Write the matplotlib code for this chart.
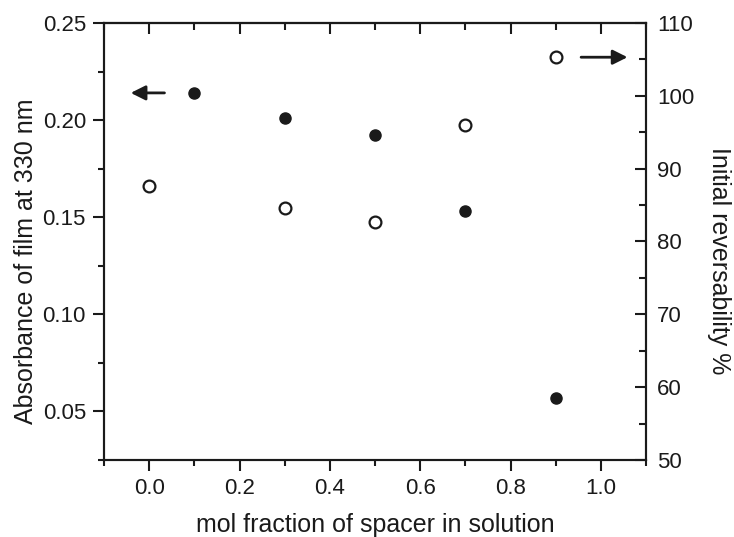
import matplotlib
matplotlib.use("Agg")
import matplotlib.pyplot as plt
from matplotlib.ticker import MultipleLocator, FormatStrFormatter

plt.rcParams["font.family"] = ["Liberation Sans", "DejaVu Sans"]

# --- données ---
x_abs = [0.1, 0.3, 0.5, 0.7, 0.9]
absorbance = [0.214, 0.201, 0.1925, 0.153, 0.057]

x_rev = [0.0, 0.3, 0.5, 0.7, 0.9]
reversibility = [87.6, 84.6, 82.7, 96.0, 105.3]

x_ticks = [0.0, 0.2, 0.4, 0.6, 0.8, 1.0]
left_ticks = [0.05, 0.10, 0.15, 0.20, 0.25]
right_ticks = [50, 60, 70, 80, 90, 100, 110]

TXT = "#1a1a1a"
FS_TICK = 16
FS_LAB = 18

fig = plt.figure(figsize=(7.34, 5.37), dpi=100)
ax = fig.add_axes([0.1417, 0.1434, 0.7385, 0.8138])
ax2 = ax.twinx()

ax.plot(x_abs, absorbance, "o", color="#1a1a1a", markersize=8, zorder=3)
ax2.plot(x_rev, reversibility, "o", markerfacecolor="white",
         markeredgecolor="#1a1a1a", markeredgewidth=1.6, markersize=8.5, zorder=3)

ax.set_xlim(-0.1, 1.1)
ax.set_ylim(0.025, 0.25)
ax2.set_ylim(50, 110)

ax.set_xticks(x_ticks)
ax.xaxis.set_minor_locator(MultipleLocator(0.1))
ax.xaxis.set_major_formatter(FormatStrFormatter("%.1f"))
ax.set_yticks(left_ticks)
ax.yaxis.set_minor_locator(MultipleLocator(0.025))
ax.yaxis.set_major_formatter(FormatStrFormatter("%.2f"))
ax2.set_yticks(right_ticks)
ax2.yaxis.set_minor_locator(MultipleLocator(5))

ax.tick_params(which="both", direction="out", width=1.5, colors=TXT,
               labelsize=FS_TICK, top=False, right=False)
ax.tick_params(which="major", length=8, pad=5)
ax.tick_params(which="minor", length=4)
ax2.tick_params(which="both", direction="in", width=1.5, colors=TXT, labelsize=FS_TICK)
ax2.tick_params(which="major", length=8, pad=8)
ax2.tick_params(which="minor", length=5)

# graduations du haut, vers l'intérieur
top = ax.secondary_xaxis("top")
top.set_xticks(x_ticks)
top.xaxis.set_minor_locator(MultipleLocator(0.1))
top.tick_params(which="both", direction="in", width=1.5, colors=TXT, labeltop=False)
top.tick_params(which="major", length=8)
top.tick_params(which="minor", length=5)

for a in (ax, ax2):
    for s in a.spines.values():
        s.set_linewidth(1.5)
        s.set_color(TXT)
top.spines["top"].set_linewidth(1.5)

ax.set_xlabel("mol fraction of spacer in solution", fontsize=FS_LAB, color=TXT, labelpad=10)
ax.set_ylabel("Absorbance of film at 330 nm", fontsize=FS_LAB, color=TXT, labelpad=3)
ax2.set_ylabel("Initial reversability %", fontsize=FS_LAB, color=TXT, rotation=270,
               labelpad=26)
# les titres verticaux sont un peu plus bas que le centre du cadre
ax.yaxis.label.set_y(0.455)
ax2.yaxis.label.set_y(0.455)

# flèches indiquant l'axe de chaque série
ax.annotate("", xy=(-0.047, 0.214), xytext=(0.04, 0.214),
            arrowprops=dict(arrowstyle="-|>", color=TXT, lw=2, mutation_scale=22))
ax2.annotate("", xy=(1.065, 105.3), xytext=(0.95, 105.3),
             arrowprops=dict(arrowstyle="-|>", color=TXT, lw=2, mutation_scale=22))

fig.savefig("out.png", dpi=100)
